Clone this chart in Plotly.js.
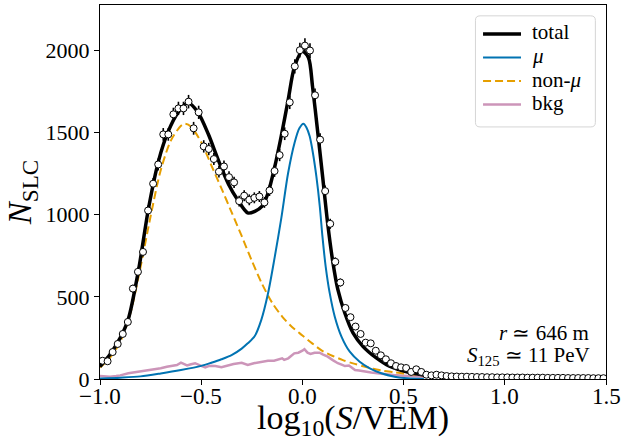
<!DOCTYPE html>
<html>
<head>
<meta charset="utf-8">
<script src="https://cdn.plot.ly/plotly-3.0.1.min.js"></script>
<style>html,body{margin:0;padding:0;background:#fff;}#chart{width:632px;height:441px;}</style>
</head>
<body>
<div id="chart"></div>
<script>
// Data points (bin centres of log10(S/VEM)) and counts
const binCenters = [-0.9875,-0.9625,-0.9375,-0.9125,-0.8875,-0.8625,-0.8375,-0.8125,-0.7875,-0.7625,
  -0.7375,-0.7125,-0.6875,-0.6625,-0.6375,-0.6125,-0.5875,-0.5625,-0.5375,-0.5125,
  -0.4875,-0.4625,-0.4375,-0.4125,-0.3875,-0.3625,-0.3375,-0.3125,-0.2875,-0.2625,
  -0.2375,-0.2125,-0.1875,-0.1625,-0.1375,-0.1125,-0.0875,-0.0625,-0.0375,-0.0125,
  0.0125,0.0375,0.0625,0.0875,0.1125,0.1375,0.1625,0.1875,0.2125,0.2375,
  0.2625,0.2875,0.3125,0.3375,0.3625,0.3875,0.4125,0.4375,0.4625,0.4875,
  0.5125,0.5375,0.5625,0.5875,0.6125,0.6375,0.6625,0.6875,0.7125,0.7375,
  0.7625,0.7875,0.8125,0.8375,0.8625,0.8875,0.9125,0.9375,0.9625,0.9875,
  1.0125,1.0375,1.0625,1.0875,1.1125,1.1375,1.1625,1.1875,1.2125,1.2375,
  1.2625,1.2875,1.3125,1.3375,1.3625,1.3875,1.4125,1.4375,1.4625,1.4875];
const counts = [111,108,164,213,274,347,550,652,773,1025,
  1188,1305,1488,1488,1610,1646,1646,1687,1525,1622,
  1415,1399,1338,1261,1293,1228,1196,1082,1115,1090,
  1102,1110,1074,1147,1265,1362,1492,1683,1902,2000,
  2028,1998,1726,1456,1143,944,713,587,432,376,
  319,274,221,217,172,144,120,96,79,71,
  67,43,59,43,26,22,26,22,18,16,
  15,14,14,13,12,12,11,11,10,10,
  10,9,9,9,8,8,8,8,7,7,
  7,7,6,6,6,6,6,5,5,5];

// Fit components
const totalX = [-1.0,-0.95,-0.9,-0.86,-0.81,-0.76,-0.71,-0.665,-0.615,-0.565,-0.515,-0.465,-0.415,-0.365,-0.32,-0.27,-0.235,-0.2,-0.17,-0.135,-0.105,-0.07,-0.04,0.0,0.03,0.05,0.075,0.1,0.125,0.15,0.175,0.21,0.25,0.3,0.365,0.43,0.515,0.6];
const totalY = [75,150,250,365,660,1040,1330,1500,1620,1680,1620,1490,1330,1185,1090,1010,1020,1050,1130,1300,1475,1700,1895,1993,1955,1780,1510,1230,945,715,545,400,280,197,128,78,44,24];

const muX = [-1.0,-0.9,-0.8,-0.7,-0.6,-0.5,-0.45,-0.4,-0.35,-0.3,-0.27,-0.236,-0.203,-0.17,-0.137,-0.104,-0.071,-0.038,-0.015,0.005,0.02,0.036,0.052,0.069,0.086,0.099,0.115,0.135,0.16,0.193,0.234,0.283,0.333,0.39,0.456,0.52,0.6];
const muY = [3,8,16,34,55,80,99,120,145,185,217,260,360,520,740,980,1250,1440,1525,1553,1530,1476,1375,1232,1049,867,684,522,379,258,166,105,65,35,14,4,0];

const nonMuX = [-1.0,-0.95,-0.9,-0.85,-0.8,-0.75,-0.7,-0.65,-0.6,-0.58,-0.55,-0.5,-0.45,-0.4,-0.35,-0.3,-0.25,-0.2,-0.15,-0.1,-0.05,0.0,0.05,0.1,0.15,0.2,0.25,0.3,0.35,0.4,0.45,0.5,0.55,0.6];
const nonMuY = [70,130,225,400,680,990,1270,1450,1540,1553,1535,1440,1300,1160,1015,870,720,580,465,380,315,265,215,170,140,115,95,78,62,50,42,34,27,22];

const bkgX = [-1.0,-0.97,-0.95,-0.92,-0.9,-0.86,-0.82,-0.78,-0.75,-0.73,-0.7,-0.67,-0.65,-0.62,-0.6,-0.57,-0.55,-0.53,-0.5,-0.48,-0.46,-0.43,-0.4,-0.37,-0.34,-0.3,-0.27,-0.24,-0.2,-0.17,-0.14,-0.12,-0.1,-0.09,-0.07,-0.04,-0.02,0.0,0.01,0.025,0.04,0.06,0.085,0.1,0.125,0.15,0.175,0.2,0.21,0.23,0.26,0.28,0.31,0.34,0.37,0.4,0.45,0.5,0.55,0.6];
const bkgY = [18,17,14,18,22,35,42,49,55,59,65,75,79,85,99,83,90,96,80,71,80,79,71,82,91,99,85,96,105,111,111,118,126,116,126,156,160,172,181,160,152,160,160,150,136,115,96,85,79,82,55,52,44,40,35,30,24,20,16,14];

const legendNames = ['total','<i>μ</i>','non-<i>μ</i>','bkg'];
const xTicks = [-1.0,-0.5,0.0,0.5,1.0,1.5];
const xTickText = ['−1.0','−0.5','0.0','0.5','1.0','1.5'];
const yTicks = [0,500,1000,1500,2000];

const SERIF = 'Liberation Serif';

// series styles (legend order: total, mu, non-mu, bkg)
const styles = [
  {color:'#000000', width:3.5, dash:'solid'},
  {color:'#0173b2', width:2, dash:'solid'},
  {color:'#e69f00', width:2, dash:'8px,4px'},
  {color:'#cc95b9', width:2.5, dash:'solid'}
];

const traces = [
  {x: bkgX, y: bkgY, mode:'lines', name: legendNames[3], line:{color:styles[3].color, width:styles[3].width}},
  {x: nonMuX, y: nonMuY, mode:'lines', name: legendNames[2], line:{color:styles[2].color, width:styles[2].width, dash:styles[2].dash, shape:'spline', smoothing:0.8}},
  {x: muX, y: muY, mode:'lines', name: legendNames[1], line:{color:styles[1].color, width:styles[1].width, shape:'spline', smoothing:0.8}},
  {x: totalX, y: totalY, mode:'lines', name: legendNames[0], line:{color:styles[0].color, width:styles[0].width, shape:'spline', smoothing:0.8}},
  {x: binCenters, y: counts, mode:'markers', name:'data',
   marker:{symbol:'circle', size:7, color:'#ffffff', line:{color:'#000000', width:1}},
   error_y:{type:'sqrt', visible:true, color:'#000000', thickness:1.6, width:0}}
];

// Legend box drawn in paper coordinates (rounded corners)
const lx0 = 0.742, lx1 = 0.979, ly0 = 0.674, ly1 = 0.971, rx = 0.009, ry = 0.012;
const shapes = [{
  type:'path', xref:'paper', yref:'paper', layer:'above',
  path: `M ${lx0+rx},${ly1} L ${lx1-rx},${ly1} Q ${lx1},${ly1} ${lx1},${ly1-ry} L ${lx1},${ly0+ry} Q ${lx1},${ly0} ${lx1-rx},${ly0} L ${lx0+rx},${ly0} Q ${lx0},${ly0} ${lx0},${ly0+ry} L ${lx0},${ly1-ry} Q ${lx0},${ly1} ${lx0+rx},${ly1} Z`,
  fillcolor:'#ffffff', line:{color:'#d5d5d5', width:1}
}];
const entryY = [0.9225, 0.8596, 0.7968, 0.7340];
const annotations = [];
legendNames.forEach((nm, i) => {
  shapes.push({type:'line', xref:'paper', yref:'paper', layer:'above',
    x0:0.757, x1:0.832, y0:entryY[i], y1:entryY[i],
    line:{color:styles[i].color, width:styles[i].width, dash:styles[i].dash}});
  annotations.push({xref:'paper', yref:'paper', x:0.850, y:entryY[i]+0.004, xanchor:'left', yanchor:'middle',
    showarrow:false, text:nm, font:{family:SERIF, size:21, color:'#000000'}});
});
// x tick labels placed on the x scale
xTicks.forEach((v, i) => {
  annotations.push({xref:'x', yref:'paper', x:v, y:-0.047, xanchor:'center', yanchor:'middle',
    showarrow:false, text:xTickText[i], font:{family:SERIF, size:23, color:'#000000'}});
});
annotations.push(
  {xref:'paper', yref:'paper', x:0.970, y:0.123, xanchor:'right', yanchor:'middle', showarrow:false,
   text:'<i>r</i> ≃ 646 m', font:{family:SERIF, size:21}},
  {xref:'paper', yref:'paper', x:0.972, y:0.062, xanchor:'right', yanchor:'middle', showarrow:false,
   text:'<i>S</i><sub>125</sub> ≃ 11 PeV', font:{family:SERIF, size:21}}
);

const layout = {
  width: 632, height: 441,
  margin: {l:100, r:26, t:5, b:62, pad:0, autoexpand:false},
  paper_bgcolor:'#ffffff', plot_bgcolor:'#ffffff',
  font: {family: SERIF, color:'#000000', size:22},
  showlegend: false,
  xaxis: {range:[-1.0,1.5], tickmode:'array', tickvals:xTicks, showticklabels:false,
    ticks:'outside', ticklen:5, tickwidth:1, tickcolor:'#000',
    showline:true, mirror:true, linecolor:'#000', linewidth:1.2, showgrid:false, zeroline:false,
    automargin:false,
    title:{text:'log<sub>10</sub>(<i>S</i>/VEM)', font:{family:SERIF, size:34}, standoff:22}},
  yaxis: {range:[0,2275], tickmode:'array', tickvals:yTicks,
    ticks:'outside', ticklen:5, tickwidth:1, tickcolor:'#000',
    showline:true, mirror:true, linecolor:'#000', linewidth:1.2, showgrid:false, zeroline:false,
    tickfont:{family:SERIF, size:22}, automargin:false,
    title:{text:'<i>N</i><sub>SLC</sub>', font:{family:SERIF, size:33}, standoff:3}},
  shapes: shapes,
  annotations: annotations
};

Plotly.newPlot('chart', traces, layout, {displayModeBar:false, staticPlot:true});
</script>
</body>
</html>
